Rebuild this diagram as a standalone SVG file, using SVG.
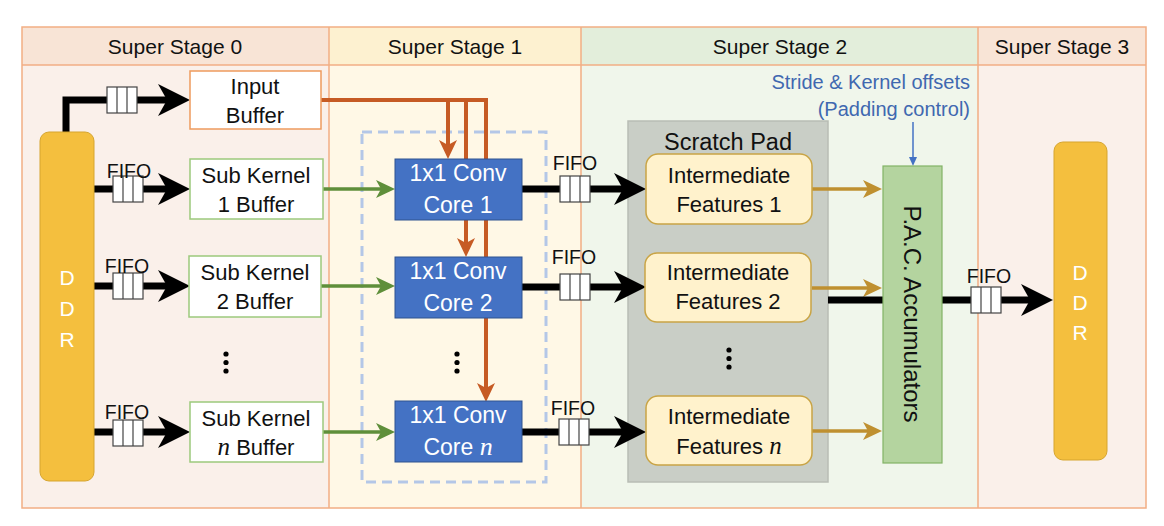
<svg xmlns="http://www.w3.org/2000/svg" xmlns:xlink="http://www.w3.org/1999/xlink" width="1164" height="526" viewBox="0 0 1164 526">
<style>
text{font-family:"Liberation Sans",Arial,sans-serif;fill:#111}
.hd{font-size:21px;text-anchor:middle}
.bx{font-size:22px;text-anchor:middle}
.cr{font-size:23px;text-anchor:middle;fill:#fff}
.wt{fill:#fff}
.ff{font-size:19.5px;text-anchor:middle}
.it{font-family:"Liberation Serif",serif;font-style:italic}
.blk{fill:none;stroke:#000;stroke-width:7}
.grn{fill:none;stroke:#5f8f3a;stroke-width:3.5}
.org{fill:none;stroke:#c65b24;stroke-width:4}
.gld{fill:none;stroke:#bf9030;stroke-width:3.5}
.wbox{fill:#fff;stroke-width:1.5}
.core{fill:#4472c4;stroke:#2f528f;stroke-width:1}
.feat{fill:#fff2cc;stroke:#c9a445;stroke-width:1.5}
.ddr{fill:#f4bf3e;stroke:#d6a52f;stroke-width:1}
.dl{font-size:21px;text-anchor:middle;fill:#fff}
.dot{fill:#000}
.bl{font-size:20px;text-anchor:end;fill:#4068b0}
</style>
<defs>
<marker id="mBlk" viewBox="0 0 32 32" markerWidth="32" markerHeight="32" refX="12" refY="16" orient="auto" markerUnits="userSpaceOnUse"><path d="M0,0 L32,16 L0,32 L9,16 Z" fill="#000"/></marker>
<marker id="mGrn" viewBox="0 0 19 18" markerWidth="19" markerHeight="18" refX="5" refY="9" orient="auto" markerUnits="userSpaceOnUse"><path d="M0,0 L19,9 L0,18 L5,9 Z" fill="#5f8f3a"/></marker>
<marker id="mOrg" viewBox="0 0 19 18" markerWidth="19" markerHeight="18" refX="5" refY="9" orient="auto" markerUnits="userSpaceOnUse"><path d="M0,0 L19,9 L0,18 L5,9 Z" fill="#c65b24"/></marker>
<marker id="mGld" viewBox="0 0 19 18" markerWidth="19" markerHeight="18" refX="5" refY="9" orient="auto" markerUnits="userSpaceOnUse"><path d="M0,0 L19,9 L0,18 L5,9 Z" fill="#bf9030"/></marker>
<marker id="mBlu" viewBox="0 0 9 8" markerWidth="9" markerHeight="8" refX="1" refY="4" orient="auto" markerUnits="userSpaceOnUse"><path d="M0,0 L9,4 L0,8 Z" fill="#4472c4"/></marker>
<g id="fifo"><rect x="0" y="0" width="30" height="26" fill="#fff" stroke="#444" stroke-width="1.2"/><line x1="10" y1="0" x2="10" y2="26" stroke="#444" stroke-width="1.2"/><line x1="20" y1="0" x2="20" y2="26" stroke="#444" stroke-width="1.2"/></g>
</defs>

<g id="stages">
<rect x="22" y="27" width="307" height="38" fill="#f8e4d6"/>
<rect x="329" y="27" width="252" height="38" fill="#fdf1d0"/>
<rect x="581" y="27" width="397" height="38" fill="#e3eedb"/>
<rect x="978" y="27" width="168" height="38" fill="#f8e4d6"/>
<rect x="22" y="65" width="307" height="443" fill="#faf0ea"/>
<rect x="329" y="65" width="252" height="443" fill="#fff8e6"/>
<rect x="581" y="65" width="397" height="443" fill="#f0f6eb"/>
<rect x="978" y="65" width="168" height="443" fill="#faf0ea"/>
<g fill="none" stroke="#f2ae84" stroke-width="1.5">
<rect x="22" y="27" width="1124" height="481"/>
<line x1="22" y1="65" x2="1146" y2="65"/>
<line x1="329" y1="27" x2="329" y2="508"/>
<line x1="581" y1="27" x2="581" y2="508"/>
<line x1="978" y1="27" x2="978" y2="508"/>
</g>
<text class="hd" x="175" y="54">Super Stage 0</text>
<text class="hd" x="455" y="54">Super Stage 1</text>
<text class="hd" x="780" y="54">Super Stage 2</text>
<text class="hd" x="1062" y="54">Super Stage 3</text>
</g>

<g id="core-group">
<rect x="362" y="132" width="184" height="350" fill="none" stroke="#b4c7e7" stroke-width="3" stroke-dasharray="10 6"/>
</g>

<g id="scratch-pad">
<rect x="628" y="121" width="200" height="361" fill="#c9cec6" stroke="#b8bdb5" stroke-width="1.5"/>
<text x="728" y="150" font-size="23.5" text-anchor="middle">Scratch Pad</text>
</g>

<g id="connectors">
<path class="blk" d="M66,134 V100 H170" marker-end="url(#mBlk)"/>
<path class="blk" d="M94,189 H170" marker-end="url(#mBlk)"/>
<path class="blk" d="M94,286 H170" marker-end="url(#mBlk)"/>
<path class="blk" d="M94,432 H170" marker-end="url(#mBlk)"/>
<path class="grn" d="M323,189 H381" marker-end="url(#mGrn)"/>
<path class="grn" d="M321,286 H381" marker-end="url(#mGrn)"/>
<path class="grn" d="M323,432 H381" marker-end="url(#mGrn)"/>
<path class="org" d="M321,100 H486"/>
<path class="org" d="M448,100 V145" marker-end="url(#mOrg)"/>
<path class="org" d="M466,100 V243" marker-end="url(#mOrg)"/>
<path class="org" d="M486,98 V388" marker-end="url(#mOrg)"/>
<path class="blk" d="M522,189 H626" marker-end="url(#mBlk)"/>
<path class="blk" d="M522,287 H626" marker-end="url(#mBlk)"/>
<path class="blk" d="M522,432 H626" marker-end="url(#mBlk)"/>
<path class="gld" d="M812,189 H868" marker-end="url(#mGld)"/>
<path class="gld" d="M812,288 H868" marker-end="url(#mGld)"/>
<path class="gld" d="M812,431 H868" marker-end="url(#mGld)"/>
<path class="blk" d="M828,300 H1033" marker-end="url(#mBlk)"/>
<path d="M913,122 V158" fill="none" stroke="#4472c4" stroke-width="1.5" marker-end="url(#mBlu)"/>
<use xlink:href="#fifo" href="#fifo" x="107" y="87"/>
<use xlink:href="#fifo" href="#fifo" x="113" y="176"/>
<use xlink:href="#fifo" href="#fifo" x="113" y="273"/>
<use xlink:href="#fifo" href="#fifo" x="113" y="420"/>
<use xlink:href="#fifo" href="#fifo" x="560" y="176"/>
<use xlink:href="#fifo" href="#fifo" x="560" y="274"/>
<use xlink:href="#fifo" href="#fifo" x="559" y="419"/>
<use xlink:href="#fifo" href="#fifo" x="971" y="287"/>
<text class="ff" x="129" y="178">FIFO</text>
<text class="ff" x="127" y="273">FIFO</text>
<text class="ff" x="127" y="419">FIFO</text>
<text class="ff" x="575" y="170">FIFO</text>
<text class="ff" x="574" y="264">FIFO</text>
<text class="ff" x="573" y="415">FIFO</text>
<text class="ff" x="989" y="283">FIFO</text>
</g>

<g id="ddr-in"><rect class="ddr" x="40" y="132" width="54" height="349" rx="9"/>
<text class="dl" x="67" y="285">D</text>
<text class="dl" x="67" y="316">D</text>
<text class="dl" x="67" y="347">R</text></g>

<g id="input-buffer"><rect class="wbox" x="190" y="71" width="131" height="58" stroke="#ee9a5e"/>
<text class="bx" x="255" y="94">Input</text><text class="bx" x="255" y="123">Buffer</text></g>

<g id="sub-kernel-1"><rect class="wbox" x="190" y="159" width="133" height="60" stroke="#9cc97c"/>
<text class="bx" x="256" y="183">Sub Kernel</text><text class="bx" x="256" y="212">1 Buffer</text></g>
<g id="sub-kernel-2"><rect class="wbox" x="189" y="256" width="132" height="61" stroke="#9cc97c"/>
<text class="bx" x="255" y="280">Sub Kernel</text><text class="bx" x="255" y="309">2 Buffer</text></g>
<g id="dots-0"><circle class="dot" cx="226" cy="354" r="2.6"/><circle class="dot" cx="226" cy="362.5" r="2.6"/><circle class="dot" cx="226" cy="371" r="2.6"/></g>
<g id="sub-kernel-n"><rect class="wbox" x="190" y="402" width="133" height="60" stroke="#9cc97c"/>
<text class="bx" x="256" y="426">Sub Kernel</text><text class="bx" x="256" y="455"><tspan class="it" font-size="25">n</tspan> Buffer</text></g>

<g id="core-1"><rect class="core" x="395" y="159" width="127" height="61"/>
<text class="cr" x="458" y="181">1x1 Conv</text><text class="cr" x="458" y="213">Core 1</text></g>
<g id="core-2"><rect class="core" x="395" y="257" width="127" height="61"/>
<text class="cr" x="458" y="279">1x1 Conv</text><text class="cr" x="458" y="311">Core 2</text></g>
<g id="dots-1"><circle class="dot" cx="457" cy="354" r="2.6"/><circle class="dot" cx="457" cy="362.5" r="2.6"/><circle class="dot" cx="457" cy="371" r="2.6"/></g>
<g id="core-n"><rect class="core" x="395" y="401" width="127" height="61"/>
<text class="cr" x="458" y="423">1x1 Conv</text><text class="cr" x="458" y="455">Core <tspan class="it wt" font-size="26">n</tspan></text></g>

<g id="features-1"><rect class="feat" x="646" y="154" width="166" height="70" rx="12"/>
<text class="bx" x="729" y="183">Intermediate</text><text class="bx" x="729" y="212">Features 1</text></g>
<g id="features-2"><rect class="feat" x="645" y="253" width="166" height="69" rx="12"/>
<text class="bx" x="728" y="280">Intermediate</text><text class="bx" x="728" y="309">Features 2</text></g>
<g id="dots-2"><circle class="dot" cx="729" cy="350" r="2.6"/><circle class="dot" cx="729" cy="358.5" r="2.6"/><circle class="dot" cx="729" cy="367" r="2.6"/></g>
<g id="features-n"><rect class="feat" x="646" y="396" width="166" height="69" rx="12"/>
<text class="bx" x="729" y="424">Intermediate</text><text class="bx" x="729" y="454">Features <tspan class="it" font-size="25">n</tspan></text></g>

<g id="pac"><rect x="883" y="166" width="59" height="297" fill="#b4d49f" stroke="#82b366" stroke-width="1.2"/>
<text transform="translate(912,314) rotate(90)" font-size="24" text-anchor="middle" dominant-baseline="central">P.A.C. Accumulators</text></g>

<g id="padding-label">
<text class="bl" x="970" y="89">Stride &amp; Kernel offsets</text>
<text class="bl" x="970" y="116">(Padding control)</text>
</g>

<g id="ddr-out"><rect class="ddr" x="1054" y="142" width="53" height="318" rx="9"/>
<text class="dl" x="1080" y="280">D</text>
<text class="dl" x="1080" y="310">D</text>
<text class="dl" x="1080" y="340">R</text></g>
</svg>
